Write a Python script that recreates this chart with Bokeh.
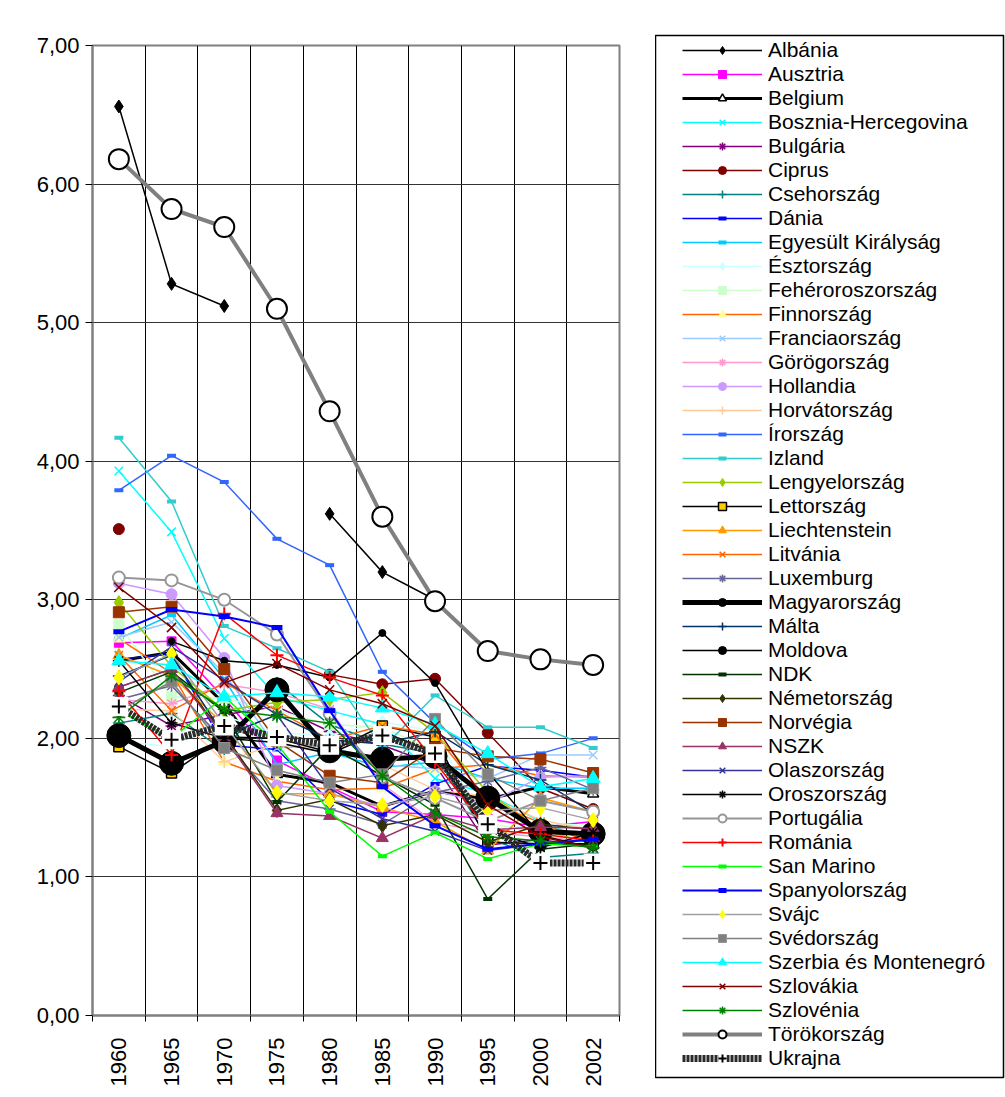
import math
from bokeh.plotting import figure
from bokeh.layouts import row, column
from bokeh.models import (Range1d, FixedTicker, CustomJSTickFormatter, Legend,
                          LegendItem)
from bokeh.embed import file_html
from bokeh.resources import INLINE

NaN = float("nan")

years = ["1960", "1965", "1970", "1975", "1980", "1985", "1990", "1995", "2000", "2002"]
y_ticks = [0, 1, 2, 3, 4, 5, 6, 7]

albania = [6.56, 5.28, 5.12, NaN, 3.62, 3.20, 3.00, NaN, NaN, NaN]
ausztria = [2.69, 2.70, 2.29, 1.84, 1.65, 1.47, 1.45, 1.42, 1.36, 1.40]
belgium = [2.56, 2.62, 2.25, 1.74, 1.68, 1.51, 1.62, 1.56, 1.65, 1.60]
bosznia = [3.93, 3.49, 2.72, 2.30, 2.20, 2.10, 1.71, 1.60, 1.40, 1.25]
bulgaria = [2.31, 2.09, 2.17, 2.23, 2.05, 1.95, 1.81, 1.23, 1.27, 1.21]
ciprus = [3.51, NaN, NaN, NaN, 2.46, 2.39, 2.43, 2.04, 1.64, 1.49]
csehorszag = [2.11, 2.18, 1.91, 2.40, 2.10, 1.96, 1.89, 1.28, 1.14, 1.17]
dania = [2.57, 2.61, 1.95, 1.92, 1.55, 1.45, 1.67, 1.80, 1.77, 1.72]
egyesult_kiralysag = [2.72, 2.89, 2.43, 1.81, 1.90, 1.79, 1.83, 1.71, 1.64, 1.64]
esztorszag = [1.98, 1.94, 2.16, 2.04, 2.02, 2.12, 2.05, 1.32, 1.39, 1.37]
feheroroszorszag = [2.82, 2.30, 2.29, 2.20, 2.10, 2.08, 1.91, 1.39, 1.31, 1.23]
finnorszag = [2.72, 2.47, 1.83, 1.69, 1.63, 1.64, 1.78, 1.81, 1.73, 1.72]
franciaorszag = [2.73, 2.84, 2.47, 1.93, 1.95, 1.81, 1.78, 1.71, 1.88, 1.88]
gorogorszag = [2.28, 2.25, 2.39, 2.33, 2.21, 1.67, 1.39, 1.32, 1.29, 1.25]
hollandia = [3.12, 3.04, 2.58, 1.66, 1.60, 1.51, 1.62, 1.53, 1.72, 1.73]
horvatorszag = [2.21, 2.20, 1.83, 1.96, 1.92, 1.81, 1.63, 1.58, 1.41, 1.34]
irorszag = [3.79, 4.04, 3.85, 3.44, 3.25, 2.48, 2.11, 1.85, 1.89, 2.00]
izland = [4.17, 3.71, 2.81, 2.65, 2.48, 1.93, 2.31, 2.08, 2.08, 1.93]
lengyelorszag = [2.98, 2.52, 2.20, 2.26, 2.28, 2.33, 2.04, 1.61, 1.34, 1.24]
lettorszag = [1.94, 1.75, 2.01, 2.00, 1.90, 2.09, 2.01, 1.25, 1.24, 1.24]
liechtenstein = [2.60, 2.45, 2.10, 1.60, 1.60, 1.50, 1.40, 1.19, 1.57, 1.47]
litvania = [2.60, 2.20, 2.40, 2.20, 1.99, 2.09, 2.03, 1.55, 1.39, 1.24]
luxemburg = [2.28, 2.38, 1.98, 1.55, 1.49, 1.38, 1.61, 1.69, 1.79, 1.63]
magyarorszag = [2.02, 1.82, 1.98, 2.35, 1.91, 1.85, 1.87, 1.57, 1.33, 1.31]
malta = [2.45, 2.60, 2.02, 2.17, 1.99, 1.96, 2.05, 1.81, 1.70, 1.46]
moldova = [NaN, 2.70, 2.56, 2.53, 2.44, 2.76, 2.40, 1.76, 1.30, 1.21]
ndk = [2.33, 2.48, 2.19, 1.54, 1.94, 1.73, 1.52, 0.84, 1.20, 1.24]
nemetorszag = [2.37, 2.50, 2.03, 1.48, 1.56, 1.37, 1.45, 1.25, 1.38, 1.34]
norvegia = [2.91, 2.95, 2.50, 1.98, 1.73, 1.68, 1.93, 1.87, 1.85, 1.75]
nszk = [2.37, 2.50, 2.01, 1.46, 1.44, 1.28, 1.45, 1.34, 1.36, 1.35]
olaszorszag = [2.41, 2.66, 2.42, 2.17, 1.64, 1.42, 1.33, 1.19, 1.24, 1.27]
oroszorszag = [2.56, 2.11, 2.00, 1.97, 1.89, 2.05, 1.89, 1.34, 1.21, 1.32]
portugalia = [3.16, 3.14, 3.00, 2.75, 2.18, 1.72, 1.57, 1.40, 1.55, 1.47]
romania = [2.34, 1.88, 2.90, 2.60, 2.44, 2.31, 1.83, 1.34, 1.31, 1.26]
san_marino = [2.20, 2.00, 2.30, 1.96, 1.47, 1.15, 1.32, 1.13, 1.24, 1.22]
spanyolorszag = [2.77, 2.93, 2.88, 2.80, 2.20, 1.65, 1.37, 1.20, 1.24, 1.27]
svajc = [2.44, 2.61, 2.10, 1.61, 1.55, 1.52, 1.58, 1.48, 1.50, 1.41]
svedorszag = [2.20, 2.41, 1.93, 1.77, 1.68, 1.74, 2.14, 1.74, 1.55, 1.64]
szerbia = [2.56, 2.53, 2.30, 2.33, 2.30, 2.22, 2.10, 1.89, 1.65, 1.71]
szlovakia = [3.09, 2.80, 2.40, 2.54, 2.35, 2.25, 2.09, 1.52, 1.29, 1.21]
szlovenia = [2.15, 2.45, 2.21, 2.16, 2.11, 1.73, 1.46, 1.29, 1.26, 1.21]
torokorszag = [6.18, 5.82, 5.69, 5.10, 4.36, 3.60, 2.99, 2.63, 2.57, 2.53]
ukrajna = [2.23, 1.99, 2.09, 2.01, 1.95, 2.02, 1.89, 1.38, 1.10, 1.10]

# (label, data, line color, line width, dash, markers[(marker, size, fill, line color, line width)])
series = [
    ("Albánia", albania, "#000000", 1.5, "solid", [("diamond", 13, "#000000", "#000000", 1)]),
    ("Ausztria", ausztria, "#FF00FF", 1.5, "solid", [("square", 9, "#FF00FF", "#FF00FF", 1)]),
    ("Belgium", belgium, "#000000", 3, "solid", [("triangle", 11, "#FFFFFF", "#000000", 1.5)]),
    ("Bosznia-Hercegovina", bosznia, "#00FFFF", 1.5, "solid", [("x", 12, "#00FFFF", "#00FFFF", 1.5)]),
    ("Bulgária", bulgaria, "#800080", 1.5, "solid", [("asterisk", 12, "#800080", "#800080", 1.5)]),
    ("Ciprus", ciprus, "#800000", 1.5, "solid", [("circle", 11, "#800000", "#800000", 1)]),
    ("Csehország", csehorszag, "#008080", 1.5, "solid", [("cross", 12, "#008080", "#008080", 1.5)]),
    ("Dánia", dania, "#0000FF", 1.5, "solid", [("dash", 9, "#0000FF", "#0000FF", 4)]),
    ("Egyesült Királyság", egyesult_kiralysag, "#00CCFF", 1.5, "solid", [("dash", 9, "#00CCFF", "#00CCFF", 4)]),
    ("Észtország", esztorszag, "#CCFFFF", 1.5, "solid", [("diamond", 14, "#CCFFFF", "#CCFFFF", 1)]),
    ("Fehéroroszország", feheroroszorszag, "#CCFFCC", 1.5, "solid", [("square", 10, "#CCFFCC", "#CCFFCC", 1)]),
    ("Finnország", finnorszag, "#FF6600", 1.5, "solid", [("triangle", 12, "#FFFF99", "#FFFF99", 1)]),
    ("Franciaország", franciaorszag, "#99CCFF", 1.5, "solid", [("x", 12, "#99CCFF", "#99CCFF", 1.5)]),
    ("Görögország", gorogorszag, "#FF99CC", 1.5, "solid", [("asterisk", 12, "#FF99CC", "#FF99CC", 1.5)]),
    ("Hollandia", hollandia, "#CC99FF", 1.5, "solid", [("circle", 11, "#CC99FF", "#CC99FF", 1)]),
    ("Horvátország", horvatorszag, "#FFCC99", 1.5, "solid", [("cross", 12, "#FFCC99", "#FFCC99", 1.5)]),
    ("Írország", irorszag, "#3366FF", 1.5, "solid", [("dash", 9, "#3366FF", "#3366FF", 4)]),
    ("Izland", izland, "#33CCCC", 1.5, "solid", [("dash", 9, "#33CCCC", "#33CCCC", 4)]),
    ("Lengyelország", lengyelorszag, "#99CC00", 1.5, "solid", [("diamond", 14, "#99CC00", "#99CC00", 1)]),
    ("Lettország", lettorszag, "#000000", 1.5, "solid", [("square", 10, "#FFCC00", "#000000", 1.5)]),
    ("Liechtenstein", liechtenstein, "#FF9900", 1.5, "solid", [("triangle", 12, "#FF9900", "#FF9900", 1)]),
    ("Litvánia", litvania, "#FF6600", 1.5, "solid", [("x", 12, "#FF6600", "#FF6600", 1.5)]),
    ("Luxemburg", luxemburg, "#666699", 1.5, "solid", [("asterisk", 12, "#666699", "#666699", 1.5)]),
    ("Magyarország", magyarorszag, "#000000", 5, "solid", [("circle", 24, "#000000", "#000000", 1)]),
    ("Málta", malta, "#003366", 1.5, "solid", [("cross", 12, "#003366", "#003366", 1.5)]),
    ("Moldova", moldova, "#000000", 1.5, "solid", [("circle", 7, "#000000", "#000000", 1)]),
    ("NDK", ndk, "#003300", 1.5, "solid", [("dash", 9, "#003300", "#003300", 4)]),
    ("Németország", nemetorszag, "#333300", 1.5, "solid", [("diamond", 14, "#333300", "#333300", 1)]),
    ("Norvégia", norvegia, "#993300", 1.5, "solid", [("square", 11, "#993300", "#993300", 1)]),
    ("NSZK", nszk, "#993366", 1.5, "solid", [("triangle", 12, "#993366", "#993366", 1)]),
    ("Olaszország", olaszorszag, "#333399", 1.5, "solid", [("x", 12, "#333399", "#333399", 1.5)]),
    ("Oroszország", oroszorszag, "#000000", 1.5, "solid", [("asterisk", 12, "#000000", "#000000", 1.5)]),
    ("Portugália", portugalia, "#969696", 2, "solid", [("circle", 12, "#FFFFFF", "#969696", 2)]),
    ("Románia", romania, "#FF0000", 1.5, "solid", [("cross", 13, "#FF0000", "#FF0000", 2)]),
    ("San Marino", san_marino, "#00FF00", 1.5, "solid", [("dash", 9, "#00FF00", "#00FF00", 4)]),
    ("Spanyolország", spanyolorszag, "#0000FF", 2, "solid", [("dash", 11, "#0000FF", "#0000FF", 5)]),
    ("Svájc", svajc, "#A0A0A0", 1.5, "solid", [("diamond", 15, "#FFFF00", "#FFFF00", 1)]),
    ("Svédország", svedorszag, "#808080", 1.5, "solid", [("square", 11, "#808080", "#969696", 1)]),
    ("Szerbia és Montenegró", szerbia, "#00FFFF", 1.5, "solid", [("triangle", 14, "#00FFFF", "#00FFFF", 1)]),
    ("Szlovákia", szlovakia, "#800000", 1.5, "solid", [("x", 13, "#800000", "#800000", 1.5)]),
    ("Szlovénia", szlovenia, "#008000", 1.5, "solid", [("asterisk", 13, "#008000", "#008000", 1.5)]),
    ("Törökország", torokorszag, "#808080", 4, "solid", [("circle", 20, "#FFFFFF", "#000000", 2)]),
    ("Ukrajna", ukrajna, "#2A2A2A", 7, "3 1", [("square", 19, "#FFFFFF", None, 0),
                                               ("cross", 14, "#000000", "#000000", 2)]),
]

FONT = "Liberation Sans"
H = 1090
FL, FR, FT, FB = 92, 619, 45, 1015   # frame edges of the chart, page pixels
LW = 655                               # chart figure width (legend box starts here)
BOX_W, BOX_T, BOX_B = 348, 35, 1077    # legend box

p = figure(width=LW, height=H, output_backend="svg", toolbar_location=None,
           x_range=Range1d(-0.5, len(years) - 0.5), y_range=Range1d(y_ticks[0], y_ticks[-1]),
           min_border_left=FL, min_border_right=LW - FR,
           min_border_top=FT, min_border_bottom=H - FB)
p.background_fill_color = "#FFFFFF"
p.border_fill_color = "#FFFFFF"
p.outline_line_color = "#808080"
p.outline_line_width = 2

xs = list(range(len(years)))
bounds = [i - 0.5 for i in range(len(years) + 1)]

p.xaxis.ticker = FixedTicker(ticks=xs, minor_ticks=bounds)
p.xaxis.formatter = CustomJSTickFormatter(args=dict(labels=years),
                                          code="return labels[Math.round(tick)] || '';")
p.xaxis.major_label_orientation = math.pi / 2
p.xaxis.major_tick_out = 0
p.xaxis.major_tick_in = 0
p.xaxis.minor_tick_out = 6
p.xaxis.minor_tick_in = 0
p.xaxis.minor_tick_line_color = "#000000"
p.xaxis.major_label_standoff = 16
p.xaxis.axis_line_color = "#808080"
p.xaxis.axis_line_width = 2

p.yaxis.ticker = FixedTicker(ticks=y_ticks, minor_ticks=[])
p.yaxis.formatter = CustomJSTickFormatter(code="return tick.toFixed(2).replace('.', ',');")
p.yaxis.major_tick_out = 7
p.yaxis.major_tick_in = 0
p.yaxis.major_tick_line_color = "#000000"
p.yaxis.major_label_standoff = 6
p.yaxis.axis_line_color = "#808080"
p.yaxis.axis_line_width = 2

for ax in (p.xaxis, p.yaxis):
    ax.major_label_text_font = FONT
    ax.major_label_text_font_size = "22px"
    ax.major_label_text_color = "#000000"

p.xgrid.ticker = FixedTicker(ticks=bounds)
p.xgrid.grid_line_color = "#000000"
p.xgrid.grid_line_width = 1
p.ygrid.ticker = FixedTicker(ticks=y_ticks)
p.ygrid.grid_line_color = "#333333"
p.ygrid.grid_line_width = 1

# legend panel: its frame is the legend box; swatch renderers sit outside its range
q = figure(width=BOX_W + 2, height=H, output_backend="svg", toolbar_location=None,
           x_range=Range1d(0, 1), y_range=Range1d(0, 1),
           x_axis_location=None, y_axis_location=None,
           min_border_left=0, min_border_right=2,
           min_border_top=BOX_T, min_border_bottom=H - BOX_B)
q.grid.visible = False
q.outline_line_color = "#000000"
q.outline_line_width = 1.5
q.background_fill_color = "#FFFFFF"
q.border_fill_color = "#FFFFFF"

off = [-10, -9]
items = []
for name, data, lc, lw, dash, markers in series:
    p.line(xs, data, line_color=lc, line_width=lw, line_dash=dash, line_join="miter")
    rs = [q.line(off, off, line_color=lc, line_width=lw, line_dash=dash)]
    for (mk, sz, fc, mlc, mlw) in markers:
        p.scatter(xs, data, marker=mk, size=sz, fill_color=fc,
                  line_color=mlc, line_width=mlw)
        rs.append(q.scatter(off, off, marker=mk, size=sz, fill_color=fc,
                            line_color=mlc, line_width=mlw))
    items.append(LegendItem(label=name, renderers=rs, index=0))

legend = Legend(items=items, location=(27, 7), padding=0, margin=0, spacing=0,
                glyph_width=80, glyph_height=20, label_height=20, label_standoff=6,
                label_text_font=FONT, label_text_font_size="21px",
                label_text_color="#000000",
                border_line_alpha=0, background_fill_alpha=0)
q.add_layout(legend, "center")

layout = row(p, column(q))
open("out.html", "w").write(file_html(layout, INLINE))
